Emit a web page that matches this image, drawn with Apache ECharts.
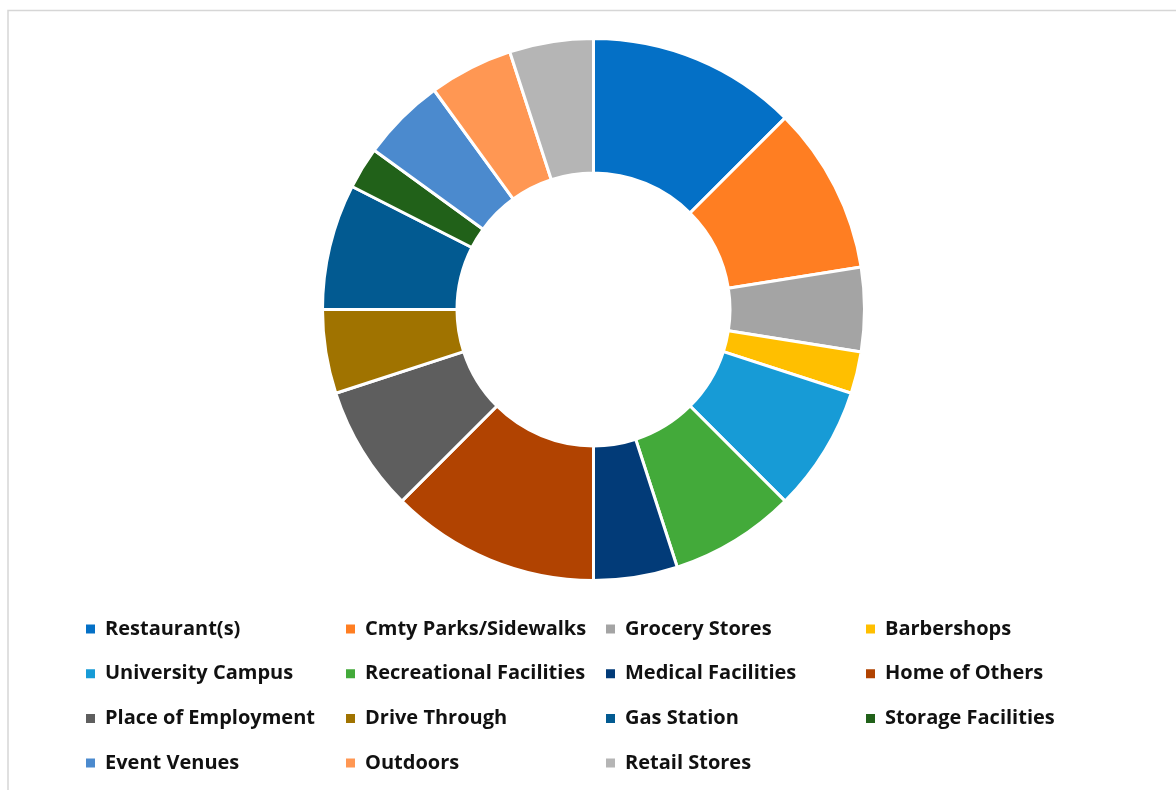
<!DOCTYPE html>
<html>
<head>
<meta charset="utf-8">
<title>Locations</title>
<script src="https://cdn.jsdelivr.net/npm/echarts@6/dist/echarts.min.js"></script>
<style>
  html, body { margin: 0; padding: 0; background: #ffffff; }
  #chart { width: 1176px; height: 790px; }
</style>
</head>
<body>
<div id="chart"></div>
<script>
// Location categories, in slice order (clockwise from 12 o'clock)
const categories = [
  'Restaurant(s)', 'Cmty Parks/Sidewalks', 'Grocery Stores', 'Barbershops',
  'University Campus', 'Recreational Facilities', 'Medical Facilities', 'Home of Others',
  'Place of Employment', 'Drive Through', 'Gas Station', 'Storage Facilities',
  'Event Venues', 'Outdoors', 'Retail Stores'
];
// Number of responses per location
const counts = [5, 4, 2, 1, 3, 3, 2, 5, 3, 2, 3, 1, 2, 2, 2];

const palette = [
  '#0470c6', '#ff7e22', '#a4a4a4', '#ffbf00',
  '#179bd6', '#43aa3a', '#023b78', '#b14301',
  '#5e5e5e', '#a07300', '#025a91', '#216119',
  '#4b8ace', '#ff9753', '#b5b5b5'
];

// Legend laid out as 4 columns, filled row by row
const nCols = 4;
const colLeft = [84, 344, 604, 864];
const legends = colLeft.map((left, c) => ({
  orient: 'vertical',
  left: left,
  top: 617,
  padding: 0,
  itemWidth: 11,
  itemHeight: 11,
  itemGap: 20.7,
  icon: 'rect',
  selectedMode: false,
  data: categories.filter((_, i) => i % nCols === c),
  textStyle: {
    fontFamily: 'Open Sans',
    fontWeight: 'bold',
    fontSize: 20,
    color: '#111111',
    lineHeight: 24,
    padding: [0, 0, 0, 4]
  }
}));

const chart = echarts.init(document.getElementById('chart'), null, { renderer: 'canvas' });
chart.setOption({
  animation: false,
  color: palette,
  legend: legends,
  graphic: [{
    type: 'rect',
    shape: { x: 8, y: 10.5, width: 1300, height: 900 },
    style: { fill: 'none', stroke: '#d6d6d6', lineWidth: 1.5 },
    silent: true,
    z: -1
  }],
  series: [{
    type: 'pie',
    center: [593.5, 309.5],
    radius: [136.5, 271],
    startAngle: 90,
    clockwise: true,
    avoidLabelOverlap: false,
    label: { show: false },
    labelLine: { show: false },
    emphasis: { disabled: true },
    itemStyle: { borderColor: '#ffffff', borderWidth: 3 },
    data: categories.map((name, i) => ({ name: name, value: counts[i] }))
  }]
});
</script>
</body>
</html>
